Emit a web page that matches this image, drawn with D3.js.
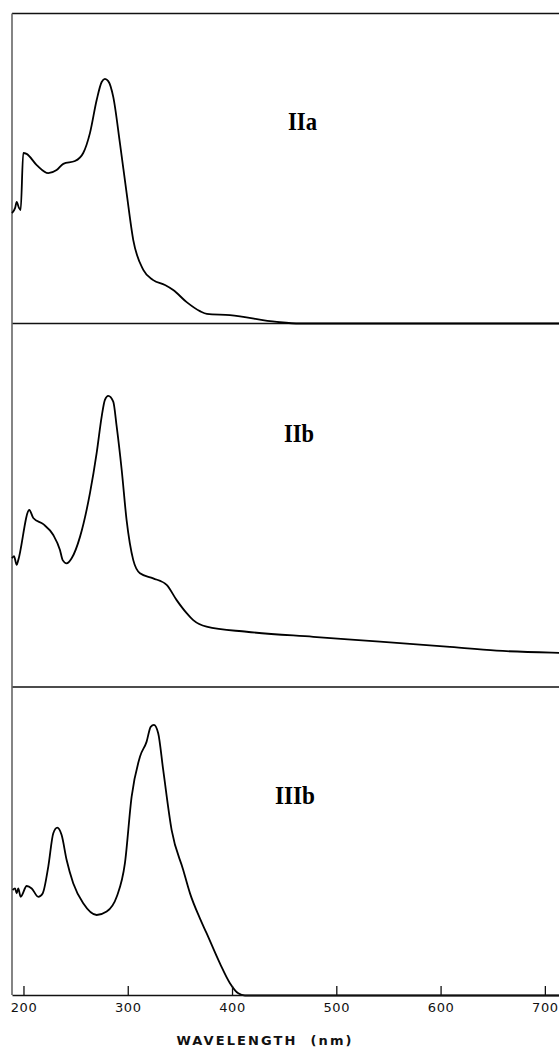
<!DOCTYPE html>
<html>
<head>
<meta charset="utf-8">
<script src="https://cdn.jsdelivr.net/npm/d3@7"></script>
<style>
  body { margin: 0; background: #fff; }
  svg { display: block; }
</style>
</head>
<body>
<script>
const w = 559;
const h = 1050;

// wavelength ticks (nm)
const xTicks = [200, 300, 400, 500, 600, 700];

// IIa spectrum (wavelength nm, relative absorbance)
const wlIIa = [189, 192, 193.5, 195.7, 197.3, 199.8, 203, 212.7, 223.8, 231.8, 238.2, 249.4, 257.3, 263.8, 270.2, 275, 278.1, 281.3, 286.1, 292.5, 298.9, 305.3, 314.9, 324.4, 335.7, 343.6, 356.5, 369.2, 375.9, 398, 443, 465, 750];
const absIIa = [0.356, 0.373, 0.392, 0.373, 0.366, 0.55, 0.547, 0.511, 0.485, 0.495, 0.515, 0.524, 0.55, 0.615, 0.721, 0.779, 0.789, 0.782, 0.731, 0.582, 0.421, 0.269, 0.173, 0.14, 0.124, 0.108, 0.069, 0.04, 0.031, 0.027, 0.005, 0, 0];

// IIb spectrum
const wlIIb = [189, 190.9, 193.5, 195, 205.6, 209.4, 219, 228.6, 235, 237.6, 241.4, 246.2, 254.2, 263.8, 270.2, 275, 278.1, 281.3, 286.1, 289.4, 294.2, 298.9, 305.3, 311.7, 324.4, 337.3, 346.9, 356.5, 362.8, 375.6, 414, 477.9, 541.8, 605.7, 653.7, 713.4, 750];
const absIIb = [0.354, 0.36, 0.336, 0.349, 0.487, 0.465, 0.448, 0.418, 0.377, 0.349, 0.34, 0.354, 0.413, 0.534, 0.644, 0.744, 0.79, 0.801, 0.785, 0.716, 0.597, 0.459, 0.349, 0.313, 0.299, 0.281, 0.239, 0.203, 0.184, 0.166, 0.152, 0.138, 0.125, 0.111, 0.1, 0.094, 0.092];

// IIIb spectrum
const wlIIIb = [189.6, 191.9, 193.5, 195, 197.3, 203.1, 207.9, 214.2, 218.4, 223.8, 228.6, 232.4, 236.6, 241.4, 247.7, 257.3, 270.2, 279.8, 289.4, 297.3, 303.7, 311.7, 318.1, 322, 325.1, 329.2, 334, 342.1, 353.2, 359.7, 369.2, 375.6, 388.4, 398, 406, 412.4, 750];
const absIIIb = [0.342, 0.347, 0.331, 0.347, 0.32, 0.355, 0.347, 0.32, 0.331, 0.418, 0.526, 0.544, 0.52, 0.439, 0.364, 0.299, 0.261, 0.272, 0.32, 0.429, 0.644, 0.774, 0.823, 0.871, 0.877, 0.85, 0.731, 0.536, 0.407, 0.331, 0.25, 0.202, 0.104, 0.04, 0.007, 0, 0];

const labels = ["IIa", "IIb", "IIIb"];

const svg = d3.select("body").append("svg").attr("width", w).attr("height", h);

const left = 12;
const frameTop = 13.5;
const frameBottom = 995;

const xScale = d3.scaleLinear().domain([189, 750]).range([left, 597]);

const panels = [
  { label: labels[0], wl: wlIIa, abs: absIIa, top: 13.5, bottom: 323.5, lx: 288, ly: 130, lw: 29 },
  { label: labels[1], wl: wlIIb, abs: absIIb, top: 323.5, bottom: 687, lx: 284, ly: 442, lw: 30 },
  { label: labels[2], wl: wlIIIb, abs: absIIIb, top: 687, bottom: 995.5, lx: 275, ly: 804, lw: 40 }
];

// frame lines
svg.append("line")
  .attr("x1", left).attr("x2", w).attr("y1", frameTop).attr("y2", frameTop)
  .attr("stroke", "#111").attr("stroke-width", 1.5);
[323.5, 687].forEach((y) => {
  svg.append("line")
    .attr("x1", left).attr("x2", w).attr("y1", y).attr("y2", y)
    .attr("stroke", "#111").attr("stroke-width", 1.5);
});
svg.append("line")
  .attr("x1", left).attr("x2", left).attr("y1", frameTop).attr("y2", frameBottom)
  .attr("stroke", "#666").attr("stroke-width", 1.6);

panels.forEach((p) => {
  const yScale = d3.scaleLinear().domain([0, 1]).range([p.bottom, p.top]);
  const pts = p.wl.map((d, i) => [d, p.abs[i]]);
  const line = d3.line()
    .x((d) => xScale(d[0]))
    .y((d) => yScale(d[1]))
    .curve(d3.curveMonotoneX);

  svg.append("path")
    .datum(pts)
    .attr("d", line)
    .attr("fill", "none")
    .attr("stroke", "#000")
    .attr("stroke-width", 1.8)
    .attr("stroke-linejoin", "round");

  svg.append("text")
    .attr("x", p.lx)
    .attr("y", p.ly)
    .attr("textLength", p.lw)
    .attr("lengthAdjust", "spacingAndGlyphs")
    .style("font-family", "'Liberation Serif', 'Times New Roman', serif")
    .style("font-weight", "bold")
    .style("font-size", "26px")
    .text(p.label);
});

const xAxis = d3.axisBottom(xScale)
  .tickValues(xTicks)
  .tickSizeInner(-9)
  .tickSizeOuter(0)
  .tickPadding(8)
  .tickFormat(d3.format("d"));

const gx = svg.append("g")
  .attr("transform", `translate(0, ${frameBottom})`)
  .call(xAxis);
gx.select(".domain").attr("stroke", "#111").attr("stroke-width", 1.5);
gx.selectAll(".tick line").attr("stroke", "#111").attr("stroke-width", 1.3);
gx.selectAll(".tick text")
  .attr("fill", "#111")
  .style("font-family", "'DejaVu Sans', sans-serif")
  .style("font-size", "13px")
  .style("letter-spacing", "0.6px");

svg.append("text")
  .attr("x", 176.5)
  .attr("y", 1045)
  .attr("textLength", 175)
  .attr("lengthAdjust", "spacing")
  .style("white-space", "pre")
  .style("font-family", "'DejaVu Sans', sans-serif")
  .style("font-weight", "bold")
  .style("font-size", "13px")
  .attr("fill", "#111")
  .text("WAVELENGTH  (nm)");
</script>
</body>
</html>
